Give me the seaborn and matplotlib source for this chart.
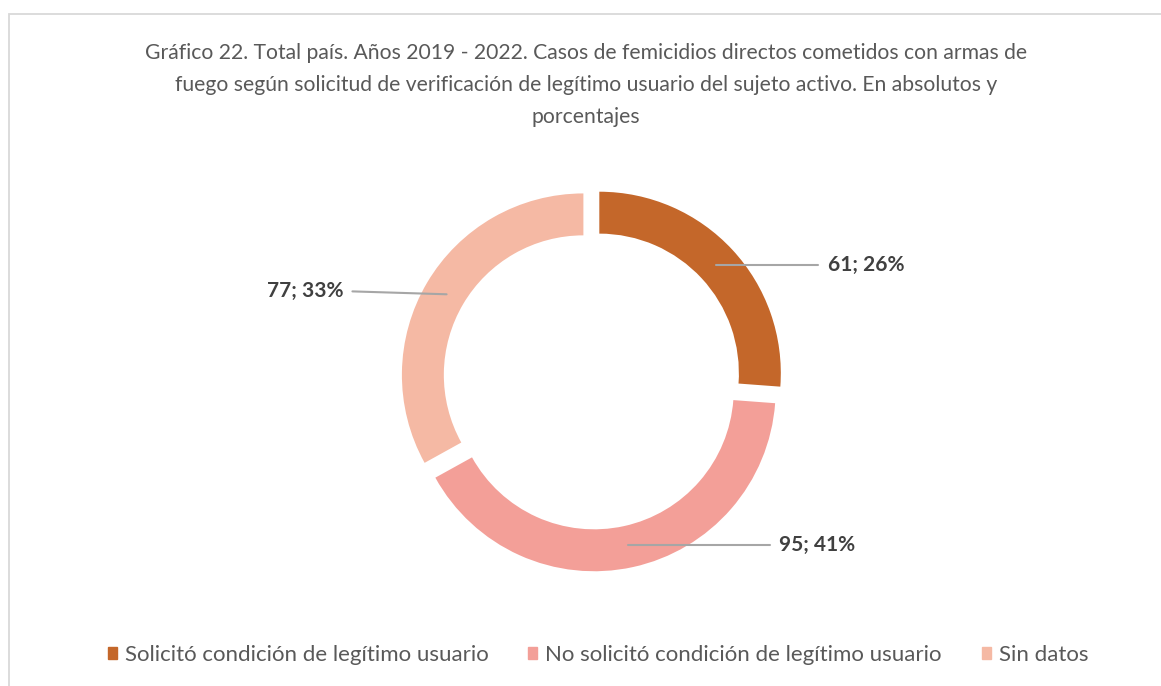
import numpy as np
import matplotlib
matplotlib.use("Agg")
import matplotlib.pyplot as plt
import matplotlib.patches as mpatches
import seaborn as sns

categories = ["Solicitó condición de legítimo usuario",
              "No solicitó condición de legítimo usuario",
              "Sin datos"]
values = [61, 95, 77]
percents = [26, 41, 33]
colors = ["#C4672A", "#F39F98", "#F5B9A4"]
title = ("Gráfico 22. Total país. Años 2019 - 2022. Casos de femicidios directos cometidos con armas de\n"
         "fuego según solicitud de verificación de legítimo usuario del sujeto activo. En absolutos y\n"
         "porcentajes")

sns.set_theme(style="white")
plt.rcParams['font.family'] = ['Lato', 'DejaVu Sans']

W, H = 1161, 686
fig = plt.figure(figsize=(W / 100, H / 100), dpi=100)
fig.patch.set_facecolor("white")

# frame
fig.patches.append(mpatches.Rectangle((9 / W, -0.1), 1.2, (H - 14) / H + 0.1,
                                      transform=fig.transFigure, fill=False,
                                      ec="#D9D9D9", lw=1.3, zorder=0))

cx, cy, R = 592, 380, 181.5
half = 200
ax = fig.add_axes([(cx - half) / W, (H - cy - half) / H, 2 * half / W, 2 * half / H])
lim = half / R
ax.set_aspect("equal")
ax.axis("off")

explode = 0.055
ax.pie(values, colors=colors, startangle=90, counterclock=False,
       explode=[explode] * 3, radius=1.0,
       wedgeprops=dict(width=0.231, edgecolor="none"))
ax.set_xlim(-lim, lim)
ax.set_ylim(-lim, lim)

# labels
total = sum(values)
line_end_x = [1.245, 0.98, -1.32]
line_end_dy = [0.0, 0.0, 0.016]
text_gap = [0.055, 0.05, -0.05]
cum = 0
for v, p, lx, dy, g in zip(values, percents, line_end_x, line_end_dy, text_gap):
    mid = (cum + v / 2) / total * 2 * np.pi
    cum += v
    r = 0.93
    px, py = r * np.sin(mid), r * np.cos(mid)
    ax.plot([px, lx], [py, py + dy], color="#A6A6A6", lw=1.5, clip_on=False, zorder=5)
    ax.text(lx + g, py + dy, f"{v}; {p}%", ha="left" if g > 0 else "right", va="center",
            fontsize=15, fontweight="bold", color="#404040", clip_on=False)

fig.text(586 / W, 1 - 85 / H, title, ha="center", va="center", fontsize=15.2,
         color="#595959", linespacing=1.72)

handles = [mpatches.Patch(color=c, label=l) for c, l in zip(colors, categories)]
fig.legend(handles=handles, loc="center", bbox_to_anchor=(598 / W, 1 - 655 / H),
           ncol=3, frameon=False, fontsize=16, handlelength=0.4, handleheight=0.4,
           handletextpad=0.36, columnspacing=1.8, labelcolor="#595959",
           borderpad=0, borderaxespad=0)

fig.savefig("out.png", dpi=100, facecolor="white")
